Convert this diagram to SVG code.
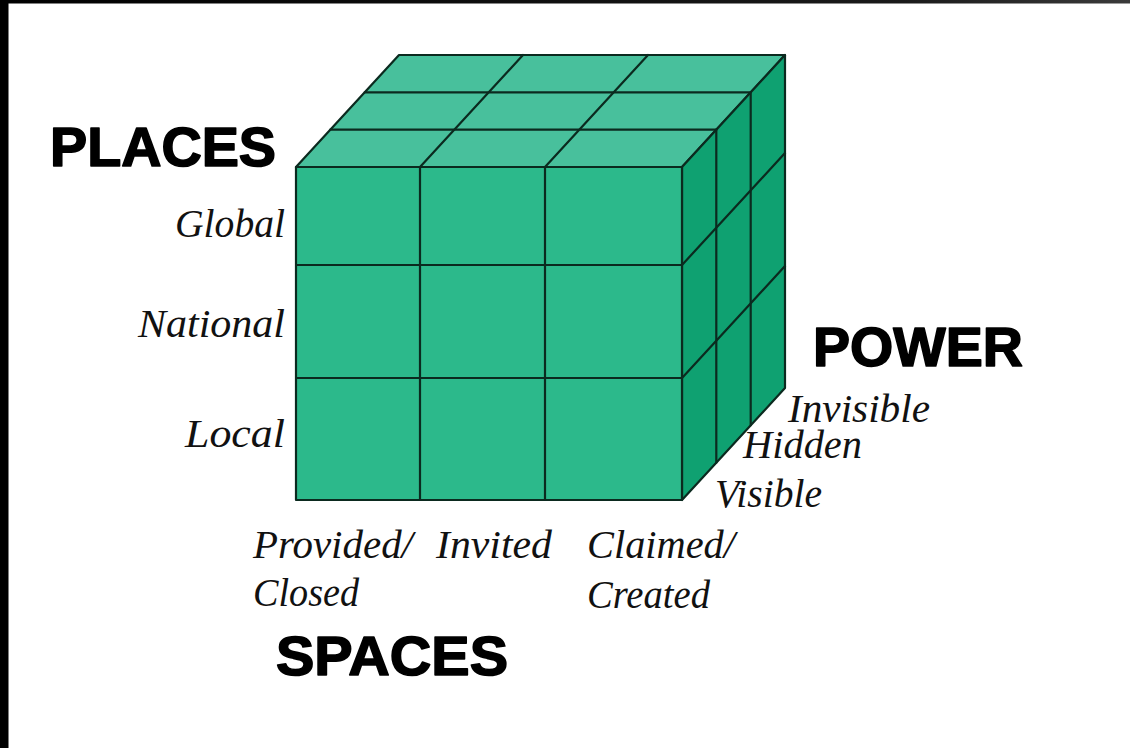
<svg xmlns="http://www.w3.org/2000/svg" width="1130" height="748" viewBox="0 0 1130 748">
  <defs>
    <linearGradient id="topband" x1="0" y1="0" x2="1" y2="0">
      <stop offset="0" stop-color="#000"/>
      <stop offset="0.8" stop-color="#1a1a1a"/>
      <stop offset="1" stop-color="#3a3a3a"/>
    </linearGradient>
  </defs>
  <style>
    .face { stroke: #0b2a1f; stroke-width: 2.2; stroke-linejoin: round; }
    .front { fill: #2cb98b; }
    .top { fill: #48c09c; }
    .side { fill: #0fa171; }
    .grid { stroke: #0b2a1f; stroke-width: 2.2; fill: none; stroke-linecap: round; }
    .axis { font-family: "Liberation Sans", Arial, sans-serif; font-weight: bold; font-size: 56px; fill: #000; stroke: #000; stroke-width: 1.6; stroke-linejoin: round; }
    .lbl { font-family: "Liberation Serif", "Times New Roman", serif; font-style: italic; font-size: 39px; fill: #111; }
  </style>
  <rect x="0" y="0" width="1130" height="748" fill="#fff"/>
  <rect x="0" y="0" width="1130" height="3.5" fill="url(#topband)"/>
  <rect x="0" y="0" width="8.5" height="748" fill="#000"/>

  <g id="cube">
    <polygon class="face top" points="296,167 682,167 785,55 399,55"/>
    <polygon class="face side" points="682,167 785,55 785,388 682,500"/>
    <rect class="face front" x="296" y="167" width="386" height="333"/>
    <g id="connectors" class="grid">
      <line x1="420" y1="167" x2="420" y2="500"/>
      <line x1="545" y1="167" x2="545" y2="500"/>
      <line x1="296" y1="265" x2="682" y2="265"/>
      <line x1="296" y1="378" x2="682" y2="378"/>
      <line x1="330.3" y1="129.7" x2="716.3" y2="129.7"/>
      <line x1="364.7" y1="92.3" x2="750.7" y2="92.3"/>
      <line x1="420" y1="167" x2="523" y2="55"/>
      <line x1="545" y1="167" x2="648" y2="55"/>
      <line x1="716.3" y1="129.7" x2="716.3" y2="462.7"/>
      <line x1="750.7" y1="92.3" x2="750.7" y2="425.3"/>
      <line x1="682" y1="265" x2="785" y2="153"/>
      <line x1="682" y1="378" x2="785" y2="266"/>
    </g>
  </g>

  <g id="places">
    <text class="axis" x="50" y="166" textLength="226" lengthAdjust="spacingAndGlyphs">PLACES</text>
    <text class="lbl" x="285" y="237" text-anchor="end" textLength="110" lengthAdjust="spacingAndGlyphs">Global</text>
    <text class="lbl" x="285" y="337" text-anchor="end" textLength="147" lengthAdjust="spacingAndGlyphs">National</text>
    <text class="lbl" x="285" y="447" text-anchor="end" textLength="100" lengthAdjust="spacingAndGlyphs">Local</text>
  </g>

  <g id="power">
    <text class="axis" x="813" y="366" textLength="210" lengthAdjust="spacingAndGlyphs">POWER</text>
    <text class="lbl" x="788" y="422" textLength="142" lengthAdjust="spacingAndGlyphs">Invisible</text>
    <text class="lbl" x="743" y="458" textLength="119" lengthAdjust="spacingAndGlyphs">Hidden</text>
    <text class="lbl" x="715" y="507" textLength="107" lengthAdjust="spacingAndGlyphs">Visible</text>
  </g>

  <g id="spaces">
    <text class="axis" x="276" y="675" textLength="232" lengthAdjust="spacingAndGlyphs">SPACES</text>
    <text class="lbl" x="253" y="558" textLength="160" lengthAdjust="spacingAndGlyphs">Provided/</text>
    <text class="lbl" x="253" y="606" textLength="106" lengthAdjust="spacingAndGlyphs">Closed</text>
    <text class="lbl" x="436" y="558" textLength="116" lengthAdjust="spacingAndGlyphs">Invited</text>
    <text class="lbl" x="587" y="558" textLength="148" lengthAdjust="spacingAndGlyphs">Claimed/</text>
    <text class="lbl" x="587" y="608" textLength="123" lengthAdjust="spacingAndGlyphs">Created</text>
  </g>
</svg>
